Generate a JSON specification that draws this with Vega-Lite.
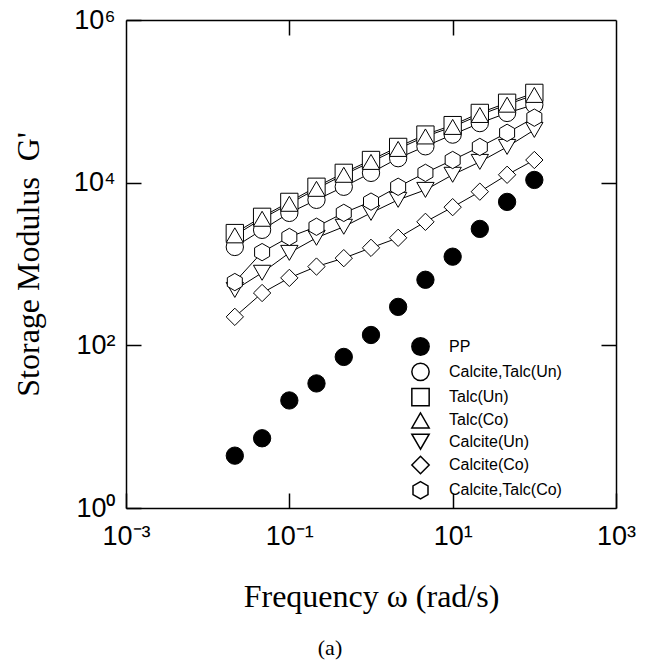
{
  "$schema": "https://vega.github.io/schema/vega-lite/v6.json",
  "width": 490,
  "height": 488,
  "autosize": {"type": "none"},
  "padding": {"left": 126, "top": 20, "right": 35, "bottom": 156},
  "background": "white",
  "config": {
    "view": {"stroke": null},
    "axis": {"grid": false, "domainColor": "black", "domainWidth": 1.5, "tickColor": "black", "tickWidth": 1.5, "labelColor": "black", "titleColor": "black", "labelFlush": false, "labelOverlap": false, "labelBound": false}
  },
  "title": {"text": "(a)", "orient": "bottom", "anchor": "middle", "font": "Liberation Serif", "fontSize": 22, "fontWeight": "normal", "color": "black", "dx": -41, "offset": 26},
  "data": {"values": [
    {"series": "PP", "w": 0.0215, "G": 4.4},
    {"series": "PP", "w": 0.0464, "G": 7.2},
    {"series": "PP", "w": 0.1, "G": 21},
    {"series": "PP", "w": 0.215, "G": 34},
    {"series": "PP", "w": 0.464, "G": 72},
    {"series": "PP", "w": 1, "G": 134},
    {"series": "PP", "w": 2.15, "G": 297},
    {"series": "PP", "w": 4.64, "G": 640},
    {"series": "PP", "w": 10, "G": 1230},
    {"series": "PP", "w": 21.5, "G": 2700},
    {"series": "PP", "w": 46.4, "G": 5800},
    {"series": "PP", "w": 100, "G": 10800},
    {"series": "Calcite,Talc(Un)", "w": 0.0215, "G": 1620},
    {"series": "Calcite,Talc(Un)", "w": 0.0464, "G": 2630},
    {"series": "Calcite,Talc(Un)", "w": 0.1, "G": 4250},
    {"series": "Calcite,Talc(Un)", "w": 0.215, "G": 6150},
    {"series": "Calcite,Talc(Un)", "w": 0.464, "G": 8900},
    {"series": "Calcite,Talc(Un)", "w": 1, "G": 13200},
    {"series": "Calcite,Talc(Un)", "w": 2.15, "G": 20000},
    {"series": "Calcite,Talc(Un)", "w": 4.64, "G": 28000},
    {"series": "Calcite,Talc(Un)", "w": 10, "G": 39000},
    {"series": "Calcite,Talc(Un)", "w": 21.5, "G": 54000},
    {"series": "Calcite,Talc(Un)", "w": 46.4, "G": 72000},
    {"series": "Calcite,Talc(Un)", "w": 100, "G": 91000},
    {"series": "Talc(Un)", "w": 0.0215, "G": 2400},
    {"series": "Talc(Un)", "w": 0.0464, "G": 3800},
    {"series": "Talc(Un)", "w": 0.1, "G": 5800},
    {"series": "Talc(Un)", "w": 0.215, "G": 8900},
    {"series": "Talc(Un)", "w": 0.464, "G": 13200},
    {"series": "Talc(Un)", "w": 1, "G": 19000},
    {"series": "Talc(Un)", "w": 2.15, "G": 27500},
    {"series": "Talc(Un)", "w": 4.64, "G": 39000},
    {"series": "Talc(Un)", "w": 10, "G": 51000},
    {"series": "Talc(Un)", "w": 21.5, "G": 72000},
    {"series": "Talc(Un)", "w": 46.4, "G": 96000},
    {"series": "Talc(Un)", "w": 100, "G": 127000},
    {"series": "Talc(Co)", "w": 0.0215, "G": 2250},
    {"series": "Talc(Co)", "w": 0.0464, "G": 3600},
    {"series": "Talc(Co)", "w": 0.1, "G": 5500},
    {"series": "Talc(Co)", "w": 0.215, "G": 8400},
    {"series": "Talc(Co)", "w": 0.464, "G": 12500},
    {"series": "Talc(Co)", "w": 1, "G": 18000},
    {"series": "Talc(Co)", "w": 2.15, "G": 26000},
    {"series": "Talc(Co)", "w": 4.64, "G": 37000},
    {"series": "Talc(Co)", "w": 10, "G": 48500},
    {"series": "Talc(Co)", "w": 21.5, "G": 68000},
    {"series": "Talc(Co)", "w": 46.4, "G": 91000},
    {"series": "Talc(Co)", "w": 100, "G": 120000},
    {"series": "Calcite(Un)", "w": 0.0215, "G": 480},
    {"series": "Calcite(Un)", "w": 0.0464, "G": 780},
    {"series": "Calcite(Un)", "w": 0.1, "G": 1370},
    {"series": "Calcite(Un)", "w": 0.215, "G": 2100},
    {"series": "Calcite(Un)", "w": 0.464, "G": 2870},
    {"series": "Calcite(Un)", "w": 1, "G": 4250},
    {"series": "Calcite(Un)", "w": 2.15, "G": 6150},
    {"series": "Calcite(Un)", "w": 4.64, "G": 8150},
    {"series": "Calcite(Un)", "w": 10, "G": 12500},
    {"series": "Calcite(Un)", "w": 21.5, "G": 18000},
    {"series": "Calcite(Un)", "w": 46.4, "G": 27500},
    {"series": "Calcite(Un)", "w": 100, "G": 44500},
    {"series": "Calcite(Co)", "w": 0.0215, "G": 224},
    {"series": "Calcite(Co)", "w": 0.0464, "G": 440},
    {"series": "Calcite(Co)", "w": 0.1, "G": 675},
    {"series": "Calcite(Co)", "w": 0.215, "G": 930},
    {"series": "Calcite(Co)", "w": 0.464, "G": 1180},
    {"series": "Calcite(Co)", "w": 1, "G": 1580},
    {"series": "Calcite(Co)", "w": 2.15, "G": 2100},
    {"series": "Calcite(Co)", "w": 4.64, "G": 3300},
    {"series": "Calcite(Co)", "w": 10, "G": 5000},
    {"series": "Calcite(Co)", "w": 21.5, "G": 7750},
    {"series": "Calcite(Co)", "w": 46.4, "G": 12500},
    {"series": "Calcite(Co)", "w": 100, "G": 19000},
    {"series": "Calcite,Talc(Co)", "w": 0.0215, "G": 600},
    {"series": "Calcite,Talc(Co)", "w": 0.0464, "G": 1400},
    {"series": "Calcite,Talc(Co)", "w": 0.1, "G": 2150},
    {"series": "Calcite,Talc(Co)", "w": 0.215, "G": 2870},
    {"series": "Calcite,Talc(Co)", "w": 0.464, "G": 4250},
    {"series": "Calcite,Talc(Co)", "w": 1, "G": 5850},
    {"series": "Calcite,Talc(Co)", "w": 2.15, "G": 8900},
    {"series": "Calcite,Talc(Co)", "w": 4.64, "G": 13200},
    {"series": "Calcite,Talc(Co)", "w": 10, "G": 19000},
    {"series": "Calcite,Talc(Co)", "w": 21.5, "G": 27500},
    {"series": "Calcite,Talc(Co)", "w": 46.4, "G": 41000},
    {"series": "Calcite,Talc(Co)", "w": 100, "G": 63000}
  ]},
  "layer": [
    {
      "transform": [{"filter": "datum.series != 'PP'"}],
      "mark": {"type": "line", "color": "black", "strokeWidth": 1},
      "encoding": {
        "x": {"field": "w", "type": "quantitative", "scale": {"type": "log", "domain": [0.001, 1000], "nice": false},
              "axis": {"orient": "top", "values": [0.1, 10], "labels": false, "title": null, "tickSize": -15}},
        "y": {"field": "G", "type": "quantitative", "scale": {"type": "log", "domain": [1, 1000000], "nice": false},
              "axis": {"orient": "right", "values": [100, 10000], "labels": false, "title": null, "tickSize": -15}},
        "detail": {"field": "series"}
      }
    },
    {
      "mark": {"type": "point", "filled": true, "stroke": "black", "strokeWidth": 1, "size": 300, "opacity": 1, "fillOpacity": 1, "strokeOpacity": 1},
      "encoding": {
        "x": {"field": "w", "type": "quantitative",
              "axis": {"orient": "bottom", "values": [0.001, 0.1, 10, 1000], "tickSize": -15, "labelPadding": 30,
                       "labelExpr": "datum.value < 0.01 ? '10⁻³' : datum.value < 1 ? '10⁻¹' : datum.value < 100 ? '10¹' : '10³'",
                       "labelFont": "Liberation Sans", "labelFontSize": 27,
                       "title": "Frequency ω (rad/s)", "titleFont": "Liberation Serif", "titleFontSize": 32, "titleFontWeight": "normal", "titlePadding": 32}},
        "y": {"field": "G", "type": "quantitative",
              "axis": {"orient": "left", "values": [1, 100, 10000, 1000000], "tickSize": -15, "labelPadding": 26,
                       "labelExpr": "datum.value < 10 ? '10⁰' : datum.value < 1000 ? '10²' : datum.value < 100000 ? '10⁴' : '10⁶'",
                       "labelFont": "Liberation Sans", "labelFontSize": 27,
                       "title": "Storage Modulus\u00a0 G'", "titleFont": "Liberation Serif", "titleFontSize": 32, "titleFontWeight": "normal", "titlePadding": 28}},
        "shape": {"field": "series", "type": "nominal",
                  "scale": {"domain": ["PP", "Calcite,Talc(Un)", "Talc(Un)", "Talc(Co)", "Calcite(Un)", "Calcite(Co)", "Calcite,Talc(Co)"],
                            "range": ["circle", "circle", "square", "triangle-up", "triangle-down", "diamond", "M0,-1L0.866,-0.5L0.866,0.5L0,1L-0.866,0.5L-0.866,-0.5Z"]},
                  "legend": {"title": null, "orient": "none", "legendX": 285, "legendY": 317, "symbolSize": 300, "labelFont": "Liberation Sans", "labelFontSize": 16, "labelColor": "black", "labelOffset": 19, "rowPadding": 0.3, "padding": 0,
                             "encode": {"symbols": {"update": {"stroke": {"value": "black"}, "strokeWidth": {"value": 1}, "opacity": {"value": 1}}}}}},
        "fill": {"field": "series", "type": "nominal",
                 "scale": {"domain": ["PP", "Calcite,Talc(Un)", "Talc(Un)", "Talc(Co)", "Calcite(Un)", "Calcite(Co)", "Calcite,Talc(Co)"],
                           "range": ["black", "white", "white", "white", "white", "white", "white"]},
                 "legend": {"title": null, "orient": "none", "legendX": 285, "legendY": 317, "symbolSize": 300, "labelFont": "Liberation Sans", "labelFontSize": 16, "labelColor": "black", "labelOffset": 19, "rowPadding": 0.3, "padding": 0,
                            "encode": {"symbols": {"update": {"stroke": {"value": "black"}, "strokeWidth": {"value": 1}, "opacity": {"value": 1}}}}}}
      }
    }
  ],
  "resolve": {"axis": {"x": "independent", "y": "independent"}}
}
